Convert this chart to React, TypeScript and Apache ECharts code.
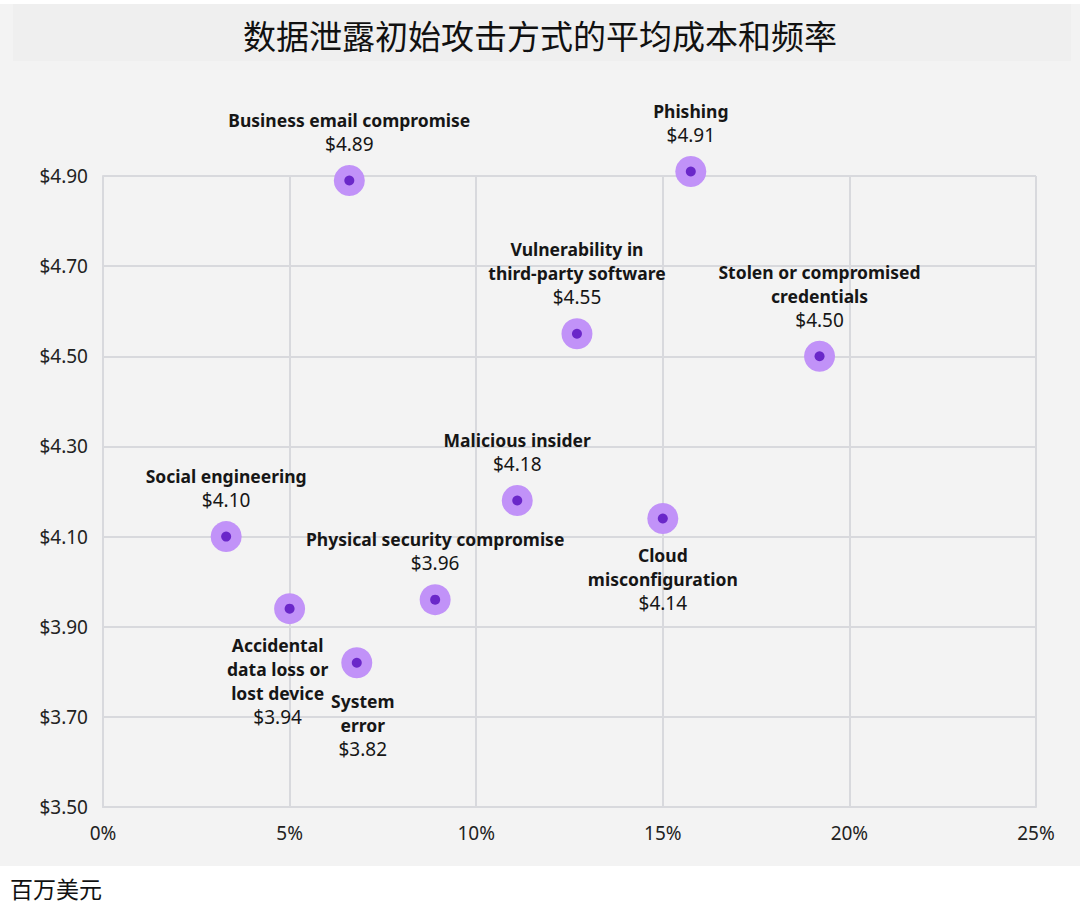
import React, { useEffect, useRef } from "react";
import * as echarts from "echarts";

const titleText = "数据泄露初始攻击方式的平均成本和频率";
const unitText = "百万美元";

const vectorNames = [
  "Business email compromise",
  "Phishing",
  "Vulnerability in\nthird-party software",
  "Stolen or compromised\ncredentials",
  "Malicious insider",
  "Social engineering",
  "Cloud\nmisconfiguration",
  "Physical security compromise",
  "Accidental\ndata loss or\nlost device",
  "System\nerror",
];
// frequency (% of breaches)
const frequency = [6.6, 15.75, 12.7, 19.2, 11.1, 3.3, 15.0, 8.9, 5.0, 6.8];
// average cost (USD millions)
const avgCost = [4.89, 4.91, 4.55, 4.5, 4.18, 4.1, 4.14, 3.96, 3.94, 3.82];

const xTicks = { min: 0, max: 25, interval: 5 };
const yTicks = { min: 3.5, max: 4.9, interval: 0.2 };

// label placement (style only)
const labelBelow = new Set([6, 8, 9]);
const labelShift: Record<number, [number, number]> = { 8: [-12, 0], 9: [6, 2] };

const FONT = "'Noto Sans', sans-serif";
const TXT = "#161616";

export default function App() {
  const ref = useRef<HTMLDivElement>(null);
  useEffect(() => {
    document.body.style.margin = "0";
    const chart = echarts.init(ref.current!, null, { renderer: "svg" });
    const outerData = vectorNames.map((name, i) => {
      const below = labelBelow.has(i);
      return {
        name,
        value: [frequency[i], avgCost[i]],
        label: {
          position: below ? "bottom" : "top",
          distance: 9,
          offset: labelShift[i] || [0, 0],
        },
      };
    });
    const innerData = vectorNames.map((name, i) => ({ name, value: [frequency[i], avgCost[i]] }));
    chart.setOption({
      animation: false,
      textStyle: { fontFamily: FONT },
      graphic: [
        { type: "rect", z: -10, shape: { x: 0, y: 4, width: 1080, height: 862 }, style: { fill: "#f3f3f3" } },
        { type: "rect", z: -9, shape: { x: 13, y: 4, width: 1058, height: 57 }, style: { fill: "#efefef" } },
        {
          type: "text",
          x: 540,
          y: 35,
          style: {
            text: titleText,
            fill: "#111",
            font: "33px 'Noto Sans CJK SC', sans-serif",
            align: "center",
            verticalAlign: "middle",
          },
        },
        {
          type: "text",
          x: 10,
          y: 888,
          style: {
            text: unitText,
            fill: "#111",
            font: "23px 'Noto Sans CJK SC', sans-serif",
            align: "left",
            verticalAlign: "middle",
          },
        },
      ],
      grid: { left: 103, right: 44, top: 176, bottom: 106, containLabel: false },
      xAxis: {
        type: "value",
        min: xTicks.min,
        max: xTicks.max,
        interval: xTicks.interval,
        axisLine: { show: true, lineStyle: { color: "#d8d9dd", width: 2 } },
        axisTick: { show: false },
        splitLine: { show: true, lineStyle: { color: "#d8d9dd", width: 2 } },
        axisLabel: { formatter: "{value}%", color: "#222", fontSize: 19, margin: 16, fontFamily: FONT },
      },
      yAxis: {
        type: "value",
        min: yTicks.min,
        max: yTicks.max,
        interval: yTicks.interval,
        axisLine: { show: true, lineStyle: { color: "#d8d9dd", width: 2 } },
        axisTick: { show: false },
        splitLine: { show: true, lineStyle: { color: "#d8d9dd", width: 2 } },
        axisLabel: {
          formatter: (v: number) => "$" + v.toFixed(2),
          color: "#222",
          fontSize: 19,
          margin: 15,
          fontFamily: FONT,
        },
      },
      series: [
        {
          type: "scatter",
          clip: false,
          symbolSize: 31,
          itemStyle: { color: "#c192f8", opacity: 1 },
          data: outerData,
          label: {
            show: true,
            fontFamily: FONT,
            formatter: (p: any) => {
              const lines = String(p.name).split("\n").map((l: string) => `{n|${l}}`);
              return lines.join("\n") + "\n{v|$" + p.value[1].toFixed(2) + "}";
            },
            rich: {
              n: { fontFamily: FONT, fontSize: 17.5, fontWeight: "bold", lineHeight: 24, color: TXT, align: "center" },
              v: { fontFamily: FONT, fontSize: 19, lineHeight: 24, color: TXT, align: "center" },
            },
          },
          z: 2,
        },
        {
          type: "scatter",
          clip: false,
          symbolSize: 10,
          itemStyle: { color: "#6a27c9", opacity: 1 },
          data: innerData,
          z: 3,
          silent: true,
        },
      ],
    });
    return () => chart.dispose();
  }, []);
  return <div ref={ref} style={{ width: 1080, height: 913 }} />;
}
